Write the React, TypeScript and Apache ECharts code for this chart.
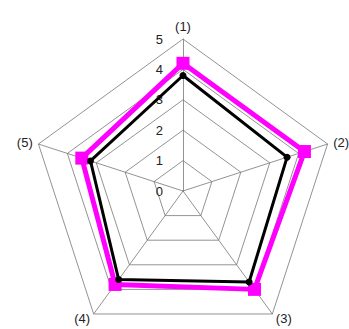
import React, { useEffect, useRef } from "react";
import * as echarts from "echarts";

const indicatorNames = ["(1)", "(2)", "(3)", "(4)", "(5)"];
const magentaValues = [4.2, 4.2, 4.0, 3.8, 3.5];
const blackValues = [3.8, 3.6, 3.7, 3.6, 3.2];
const axisMin = 0;
const axisMax = 5;

// ECharts radar lays indicators counter-clockwise; reorder so (1)->(5) run clockwise.
const order = [0, 4, 3, 2, 1];
const pick = (arr: any[]) => order.map((i) => arr[i]);

export default function App() {
  const ref = useRef<HTMLDivElement>(null);
  useEffect(() => {
    if (!ref.current) return;
    const chart = echarts.init(ref.current, null, { renderer: "svg" });
    chart.setOption({
      animation: false,
      radar: {
        center: [183, 191],
        radius: 152,
        startAngle: 90,
        splitNumber: 5,
        shape: "polygon",
        nameGap: 6,
        axisName: {
          color: "#222",
          fontFamily: "Liberation Sans",
          fontSize: 13,
        },
        axisLine: { lineStyle: { color: "#777", width: 0.8 } },
        splitLine: { lineStyle: { color: "#777", width: 0.8 } },
        splitArea: { show: false },
        axisLabel: { show: false },
        indicator: pick(indicatorNames).map((n, i) => ({
          name: n,
          min: axisMin,
          max: axisMax,
          ...(i === 0
            ? {
                axisLabel: {
                  show: true,
                  color: "#222",
                  fontFamily: "Liberation Sans",
                  fontSize: 13,
                  margin: 20,
                },
              }
            : {}),
        })),
      },
      series: [
        {
          type: "radar",
          z: 2,
          data: [
            {
              value: pick(magentaValues),
              symbol: "rect",
              symbolSize: 13,
              lineStyle: { color: "#ff00ff", width: 5 },
              itemStyle: { color: "#ff00ff" },
            },
          ],
        },
        {
          type: "radar",
          z: 3,
          data: [
            {
              value: pick(blackValues),
              symbol: "circle",
              symbolSize: 7,
              lineStyle: { color: "#000", width: 3 },
              itemStyle: { color: "#000" },
            },
          ],
        },
      ],
    });
    return () => chart.dispose();
  }, []);
  return (
    <div
      ref={ref}
      style={{ position: "absolute", left: 0, top: 0, width: 349, height: 329, background: "#fff" }}
    />
  );
}
